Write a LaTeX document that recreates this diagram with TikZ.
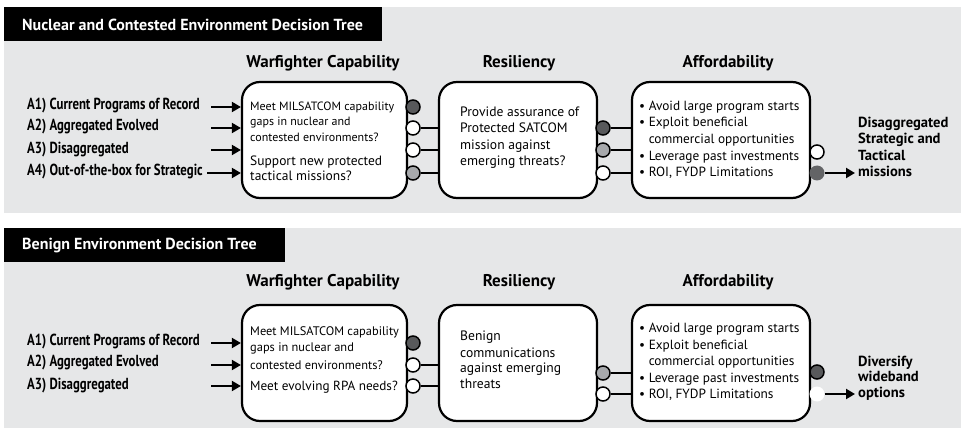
\documentclass[tikz,border=0pt]{standalone}
\usepackage{fontspec}
\setmainfont{PT Sans}
\newfontfamily\condfont{PT Sans}[FakeStretch=0.8]
\usetikzlibrary{arrows.meta}
\definecolor{bggray}{HTML}{E6E7E8}
\definecolor{darkc}{HTML}{58595B}
\definecolor{midc}{HTML}{A7A9AC}
\definecolor{darkn}{HTML}{636466}
\begin{document}
\begin{tikzpicture}[x=1pt,y=-1pt,
  box/.style={draw, line width=2.2pt, rounded corners=18pt, fill=white, minimum height=116pt, inner sep=0pt},
  dot/.style={draw, circle, line width=1.5pt, minimum size=14pt, inner sep=0pt},
  ndot/.style={circle, minimum size=15pt, inner sep=0pt},
  conn/.style={line width=2pt},
  arr/.style={line width=2pt, -{Triangle[length=9pt,width=10pt]}},
  titletxt/.style={text=white, font=\bfseries\fontsize{16}{18}\selectfont, inner sep=0pt, anchor=west},
  head/.style={font=\bfseries\fontsize{17}{19}\selectfont, inner sep=0pt},
  lbl/.style={font=\condfont\bfseries\fontsize{16}{18}\selectfont, inner sep=0pt, anchor=west},
  txt/.style={font=\fontsize{13.3}{15}\selectfont, inner sep=0pt, anchor=base west},
  outtxt/.style={font=\bfseries\fontsize{14.6}{16}\selectfont, inner sep=0pt, anchor=base west}
]
\useasboundingbox (0,0) rectangle (961,430);
% ===== panels =====
\fill[bggray] (4,7) rectangle (961,213);
\fill[bggray] (4,228) rectangle (961,428);
\fill[black] (4,7) rectangle (382,41);
\fill[black] (4,228) rectangle (285,262);
\node[titletxt] (tt1) at (22,24.5) {Nuclear and Contested Environment Decision Tree};
\node[titletxt] (tt2) at (22,245.5) {Benign Environment Decision Tree};

% ===== TOP PANEL =====
\node[head] (h11) at (323,63) {Warfighter Capability};
\node[head] (h12) at (519,63) {Resiliency};
\node[head] (h13) at (728,63) {Affordability};

\node[box, minimum width=165pt] (b1) at (324.5,140) {};
\node[box, minimum width=158pt] (b2) at (518,140) {};
\node[box, minimum width=178pt] (b3) at (721,140) {};

\node[lbl] (a11) at (27,106) {A1) Current Programs of Record};
\node[lbl] (a12) at (27,127) {A2) Aggregated Evolved};
\node[lbl] (a13) at (27,150) {A3) Disaggregated};
\node[lbl] (a14) at (27,172) {A4) Out-of-the-box for Strategic};
\coordinate (s11) at (211,107);
\coordinate (s12) at (211,128);
\coordinate (s13) at (211,150);
\coordinate (s14) at (207,173);
\foreach \k in {11,12,13,14} \draw[arr] (s\k) -- (s\k -| b1.west);

\foreach \y/\t [count=\i] in {111/{Meet MILSATCOM capability},126/{gaps in nuclear and},142/{contested environments?}}
  \node[txt, font=\fontsize{12}{14}\selectfont] (w1\i) at (250,\y) {\t};
\foreach \y/\t [count=\i] in {166/{Support new protected},181/{tactical missions?}}
  \node[txt, font=\fontsize{13.5}{15}\selectfont] (v1\i) at (250,\y) {\t};
\foreach \y/\t [count=\i] in {117/{Provide assurance of},133/{Protected SATCOM},150/{mission against},166/{emerging threats?}}
  \node[txt, font=\fontsize{13.6}{15}\selectfont] (r1\i) at (460,\y) {\t};
\foreach \y/\t [count=\i] in {111/{• Avoid large program starts},127/{• Exploit beneficial},144/{\hphantom{• }commercial opportunities},161/{• Leverage past investments},177/{• ROI, FYDP Limitations}}
  \node[txt] (f1\i) at (639,\y) {\t};

% circles box1
\node[dot, fill=darkc] (c11) at (413,107) {};
\node[dot, fill=white] (c12) at (413,128) {};
\node[dot, fill=white] (c13) at (413,150) {};
\node[dot, fill=midc]  (c14) at (413,173) {};
\foreach \k in {12,13,14} \draw[conn] (c\k) -- (c\k -| b2.west);
% circles box2
\node[dot, fill=darkc] (d11) at (603,128) {};
\node[dot, fill=midc]  (d12) at (603,150) {};
\node[dot, fill=white] (d13) at (603,173) {};
\foreach \k in {11,12,13} \draw[conn] (d\k) -- (d\k -| b3.west);
% circles box3
\node[dot, fill=white] (e11) at (817,152) {};
\node[ndot, fill=darkn] (e12) at (817,173) {};
\coordinate (o1) at (855,173);
\draw[arr] (e12) -- (o1);
\foreach \y/\t [count=\i] in {128/{Disaggregated},144/{Strategic and},161/{Tactical},177/{missions}}
  \node[outtxt] (x1\i) at (858,\y) {\t};

% ===== BOTTOM PANEL =====
\node[head] (h21) at (323,282) {Warfighter Capability};
\node[head] (h22) at (519,282) {Resiliency};
\node[head] (h23) at (728,282) {Affordability};

\node[box, minimum width=165pt] (b4) at (324.5,363) {};
\node[box, minimum width=158pt] (b5) at (518,363) {};
\node[box, minimum width=178pt] (b6) at (721,363) {};

\node[lbl] (a21) at (27,342) {A1) Current Programs of Record};
\node[lbl] (a22) at (27,363) {A2) Aggregated Evolved};
\node[lbl] (a23) at (27,386) {A3) Disaggregated};
\coordinate (s21) at (211,343);
\coordinate (s22) at (211,365);
\coordinate (s23) at (211,386);
\foreach \k in {21,22,23} \draw[arr] (s\k) -- (s\k -| b4.west);

\foreach \y/\t [count=\i] in {335/{Meet MILSATCOM capability},352/{gaps in nuclear and},369/{contested environments?}}
  \node[txt, font=\fontsize{12.4}{14}\selectfont] (w2\i) at (250,\y) {\t};
\node[txt, font=\fontsize{13.2}{15}\selectfont] (v21) at (250,390) {Meet evolving RPA needs?};
\foreach \y/\t [count=\i] in {341/{Benign},357/{communications},372/{against emerging},388/{threats}}
  \node[txt, font=\fontsize{13.6}{15}\selectfont] (r2\i) at (460,\y) {\t};
\foreach \y/\t [count=\i] in {332/{• Avoid large program starts},349/{• Exploit beneficial},365/{\hphantom{• }commercial opportunities},382/{• Leverage past investments},398/{• ROI, FYDP Limitations}}
  \node[txt] (f2\i) at (639,\y) {\t};

\node[dot, fill=darkc] (c21) at (413,343) {};
\node[dot, fill=white] (c22) at (413,365) {};
\node[dot, fill=white] (c23) at (413,386) {};
\foreach \k in {22,23} \draw[conn] (c\k) -- (c\k -| b5.west);
\node[dot, fill=midc]  (d21) at (603,373) {};
\node[dot, fill=white] (d22) at (603,394) {};
\foreach \k in {21,22} \draw[conn] (d\k) -- (d\k -| b6.west);
\node[dot, fill=darkc] (e21) at (817,372) {};
\node[ndot, fill=white] (e22) at (817,394) {};
\coordinate (o2) at (855,394);
\draw[arr] (e22) -- (o2);
\foreach \y/\t [count=\i] in {366/{Diversify},381/{wideband},397/{options}}
  \node[outtxt] (x2\i) at (858,\y) {\t};
\end{tikzpicture}
\end{document}
